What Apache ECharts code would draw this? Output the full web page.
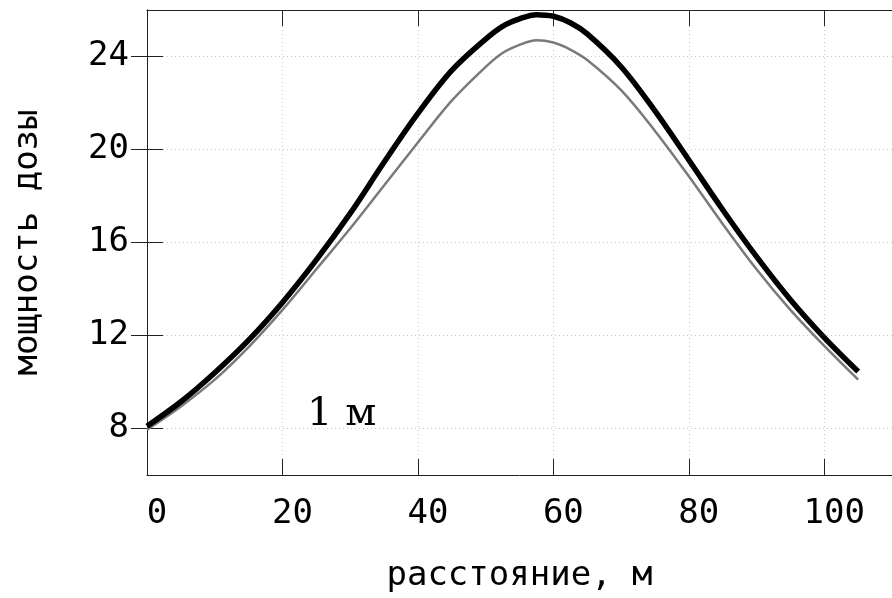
<!DOCTYPE html>
<html>
<head>
<meta charset="utf-8">
<script src="https://cdn.jsdelivr.net/npm/echarts@6/dist/echarts.min.js"></script>
<style>
  html, body { margin: 0; padding: 0; background: #fff; }
  #chart { width: 892px; height: 598px; }
</style>
</head>
<body>
<div id="chart"></div>
<script>
// 数据
var distance = [0, 5, 10, 15, 20, 25, 30, 35, 40, 45, 50, 52.5, 55, 57.5, 60, 62.5, 65, 70, 75, 80, 85, 90, 95, 100, 105]
var doseThick = [8.1, 9.15, 10.4, 11.8, 13.42, 15.25, 17.25, 19.45, 21.55, 23.4, 24.75, 25.3, 25.62, 25.8, 25.73, 25.45, 24.97, 23.56, 21.66, 19.55, 17.41, 15.39, 13.54, 11.91, 10.45]
var doseThin = [7.95, 8.95, 10.1, 11.5, 13.1, 14.85, 16.6, 18.45, 20.3, 22.1, 23.55, 24.15, 24.5, 24.7, 24.6, 24.3, 23.85, 22.55, 20.8, 18.85, 16.8, 14.85, 13.1, 11.55, 10.1]
var xTicks = [0, 20, 40, 60, 80, 100]
var yTicks = [8, 12, 16, 20, 24]

var monoFont = '"DejaVu Sans Mono", monospace'
var frameColor = '#222'

function pairs(xs, ys) {
  var out = []
  for (var i = 0; i < xs.length; i++) {
    out.push([xs[i], ys[i]])
  }
  return out
}

var chart = echarts.init(document.getElementById('chart'), null, {
  width: 892,
  height: 598,
  devicePixelRatio: 1
})

var gridLine = {
  show: true,
  lineStyle: { color: '#c8c8c8', width: 1, type: [1, 3] }
}

chart.setOption({
  animation: false,
  grid: { left: 147, right: -1, top: 10, bottom: 122, containLabel: false },
  xAxis: [{
    type: 'value',
    min: 0,
    max: 110,
    interval: 20,
    name: 'расстояние, м',
    nameLocation: 'middle',
    nameGap: 84,
    nameTextStyle: { fontFamily: monoFont, fontSize: 34, color: '#000' },
    axisLine: { show: true, onZero: false, lineStyle: { color: frameColor, width: 1 } },
    axisTick: { show: true, inside: true, length: 16, customValues: xTicks, lineStyle: { color: frameColor } },
    axisLabel: {
      customValues: xTicks,
      fontFamily: monoFont,
      fontSize: 34,
      color: '#000',
      margin: 22,
      padding: [0, 0, 0, 20]
    },
    splitLine: gridLine
  }, {
    type: 'value',
    position: 'top',
    min: 0,
    max: 110,
    interval: 20,
    axisLine: { show: true, lineStyle: { color: frameColor, width: 1 } },
    axisTick: { show: true, inside: true, length: 16, customValues: xTicks, lineStyle: { color: frameColor } },
    axisLabel: { show: false },
    splitLine: { show: false }
  }],
  yAxis: [{
    type: 'value',
    min: 6,
    max: 26,
    name: 'мощность дозы',
    nameLocation: 'middle',
    nameGap: 102,
    nameTextStyle: { fontFamily: monoFont, fontSize: 34, color: '#000' },
    axisLine: { show: true, onZero: false, lineStyle: { color: frameColor, width: 1 } },
    axisTick: { show: true, inside: true, length: 16, customValues: yTicks, lineStyle: { color: frameColor } },
    axisLabel: {
      customValues: yTicks,
      fontFamily: monoFont,
      fontSize: 34,
      color: '#000',
      margin: 18
    },
    splitLine: gridLine
  }, {
    type: 'value',
    position: 'right',
    min: 6,
    max: 26,
    axisLine: { show: true, lineStyle: { color: frameColor, width: 1 } },
    axisTick: { show: true, inside: true, length: 16, customValues: yTicks, lineStyle: { color: frameColor } },
    axisLabel: { show: false },
    splitLine: { show: false }
  }],
  graphic: [{
    type: 'text',
    style: {
      x: 307,
      y: 415,
      text: '1 м',
      fill: '#000',
      font: '40px "DejaVu Serif", serif',
      textAlign: 'left',
      textVerticalAlign: 'middle'
    }
  }],
  series: [{
    type: 'line',
    data: pairs(distance, doseThin),
    smooth: 0.35,
    showSymbol: false,
    lineStyle: { color: '#7a7a7a', width: 2.5 },
    z: 2
  }, {
    type: 'line',
    data: pairs(distance, doseThick),
    smooth: 0.35,
    showSymbol: false,
    lineStyle: { color: '#000', width: 5.5 },
    z: 3
  }]
})
</script>
</body>
</html>
